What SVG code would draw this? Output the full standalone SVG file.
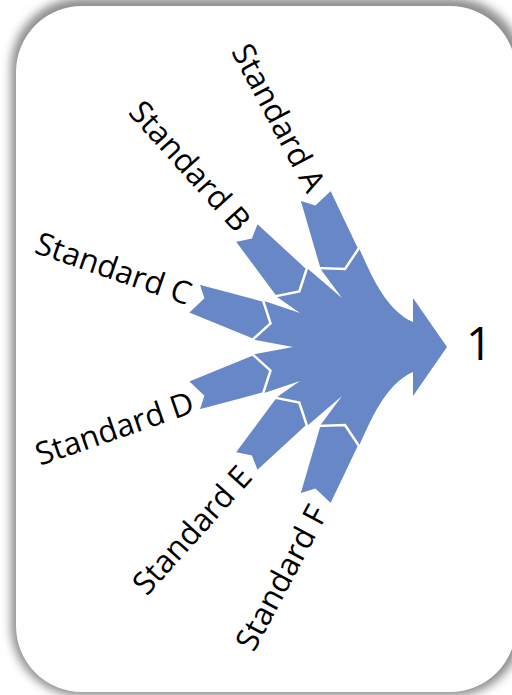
<svg xmlns="http://www.w3.org/2000/svg" width="512" height="695" viewBox="0 0 512 695">
  <defs>
    <filter id="shadow" x="-10%" y="-10%" width="120%" height="120%">
      <feGaussianBlur stdDeviation="5"/>
    </filter>
    <style>
      .arrow { fill: #6787C7; stroke: #FFFFFF; stroke-width: 2.5; stroke-linejoin: miter; }
      .body { fill: #6787C7; stroke: none; }
      .label { font-family: "Open Sans", "DejaVu Sans", sans-serif; font-size: 31.5px; fill: #000000; text-anchor: middle; dominant-baseline: central; }
      .num { font-family: "Open Sans", "DejaVu Sans", sans-serif; font-size: 46px; fill: #000000; }
    </style>
  </defs>
  <rect x="0" y="0" width="512" height="695" fill="#FFFFFF"/>
  <g id="card">
    <rect x="11" y="-2" width="512" height="698" rx="70" fill="#8E8E8E" filter="url(#shadow)"/>
    <rect x="16" y="6" width="500" height="686" rx="66" fill="#FFFFFF"/>
  </g>
  <g id="connectors">
    <path id="merged-body" class="body" d="M358.3,246.4 C370,272 385,310 413,322 L413,298 L447,347 L413,396 L413,372 C385,384 370,422 358.3,447.6 L318.7,427.4 L342,396 L305.8,427 L274.2,399 L300,381 L261.2,394.1 L250.8,354.9 L293,347 L250.8,339.1 L261.2,299.9 L300,313 L274.2,295 L305.8,267 L342,298 L318.7,266.6 Z"/>
  </g>
  <g id="node-a">
    <polygon class="arrow" points="299,199 315,204 331,189 358.3,246.4 361,245 345,269 316,268 318.7,266.6"/>
    <text class="label" transform="translate(280,117) rotate(62)">Standard A</text>
  </g>
  <g id="node-b">
    <polygon class="arrow" points="234,241 251,237.5 257,222 305.8,267 308,265 299.3,291.5 272,297 274.2,295"/>
    <text class="label" transform="translate(191,165) rotate(48)">Standard B</text>
  </g>
  <g id="node-c">
    <polygon class="arrow" points="198,283 261.2,299.9 262,297 270.5,323.4 250,342 250.8,339.1 187,313 203,298"/>
    <text class="label" transform="translate(114,267) rotate(19)">Standard C</text>
  </g>
  <g id="node-d">
    <polygon class="arrow" points="198,411 261.2,394.1 262,397 270.5,370.6 250,352 250.8,354.9 187,381 203,396"/>
    <text class="label" transform="translate(114,427) rotate(-19)">Standard D</text>
  </g>
  <g id="node-e">
    <polygon class="arrow" points="234,453 251,456.5 257,472 305.8,427 308,429 299.3,402.5 272,397 274.2,399"/>
    <text class="label" transform="translate(191,529) rotate(-48)">Standard E</text>
  </g>
  <g id="node-f">
    <polygon class="arrow" points="299,495 315,490 331,505 358.3,447.6 361,449 345,425 316,426 318.7,427.4"/>
    <text class="label" transform="translate(280,577) rotate(-62)">Standard F</text>
  </g>
  <g id="node-result">
    <text class="num" x="466" y="360">1</text>
  </g>
</svg>
